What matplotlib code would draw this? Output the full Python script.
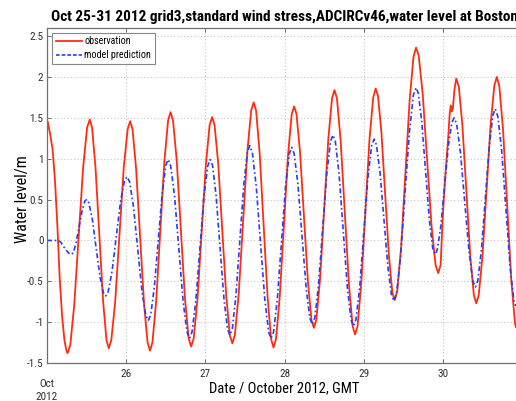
import matplotlib
matplotlib.use("Agg")
import matplotlib.pyplot as plt
from matplotlib.lines import Line2D
from matplotlib import font_manager

_names = {f.name for f in font_manager.fontManager.ttflist}
if 'Liberation Sans Narrow' in _names:
    FAM, SC = 'Liberation Sans Narrow', 1.0
elif 'DejaVu Sans Condensed' in _names:
    FAM, SC = 'DejaVu Sans Condensed', 0.9
elif 'Roboto Condensed' in _names:
    FAM, SC = 'Roboto Condensed', 1.0
else:
    FAM, SC = 'Liberation Sans', 0.82
plt.rcParams['font.family'] = [FAM, 'Liberation Sans', 'DejaVu Sans']

# ---------------- data ----------------
title = "Oct 25-31 2012 grid3,standard wind stress,ADCIRCv46,water level at Boston"
xlabel = "Date / October 2012, GMT"
ylabel = "Water level/m"
xticks = [25, 26, 27, 28, 29, 30]
xticklabels = ["", "26", "27", "28", "29", "30"]
yticks = [-1.5, -1, -0.5, 0, 0.5, 1, 1.5, 2, 2.5]
yticklabels = ["-1.5", "-1", "-0.5", "0", "0.5", "1", "1.5", "2", "2.5"]
start_label = "Oct\n2012"

obs_t = [25.01, 25.04, 25.07, 25.10, 25.13, 25.16, 25.19, 25.22, 25.245, 25.26,
         25.294, 25.344, 25.40, 25.456, 25.506, 25.54,
         25.569, 25.612, 25.66, 25.708, 25.751, 25.78,
         25.812, 25.861, 25.915, 25.969, 26.018, 26.05,
         26.08, 26.125, 26.175, 26.225, 26.27, 26.30,
         26.331, 26.378, 26.43, 26.482, 26.529, 26.56,
         26.591, 26.638, 26.69, 26.742, 26.789, 26.82,
         26.852, 26.90, 26.953, 27.006, 27.053, 27.085,
         27.116, 27.162, 27.213, 27.264, 27.309, 27.34,
         27.372, 27.421, 27.475, 27.529, 27.578, 27.61,
         27.64, 27.685, 27.735, 27.785, 27.83, 27.86,
         27.891, 27.938, 27.99, 28.042, 28.089, 28.12,
         28.15, 28.195, 28.245, 28.295, 28.34, 28.37,
         28.401, 28.448, 28.50, 28.552, 28.599, 28.63,
         28.661, 28.708, 28.76, 28.812, 28.859, 28.89,
         28.921, 28.968, 29.02, 29.072, 29.119, 29.15,
         29.179, 29.222, 29.27, 29.318, 29.361, 29.39,
         29.422, 29.471, 29.525, 29.579, 29.628, 29.66,
         29.694, 29.744, 29.80, 29.856, 29.906, 29.94,
         29.97, 30.00, 30.03, 30.065, 30.085, 30.098, 30.11, 30.125, 30.145, 30.167,
         30.20, 30.245, 30.295, 30.345, 30.39, 30.42,
         30.451, 30.498, 30.55, 30.602, 30.649, 30.68,
         30.711, 30.758, 30.81, 30.862, 30.909, 30.92]
obs_v = [1.45, 1.30, 1.12, 0.75, 0.20, -0.45, -0.92, -1.22, -1.35, -1.38,
         -1.28, -0.79, 0.05, 0.89, 1.38, 1.48,
         1.38, 0.90, 0.08, -0.74, -1.22, -1.32,
         -1.22, -0.75, 0.07, 0.89, 1.36, 1.46,
         1.36, 0.88, 0.06, -0.77, -1.25, -1.35,
         -1.25, -0.75, 0.11, 0.97, 1.47, 1.57,
         1.47, 0.98, 0.14, -0.71, -1.20, -1.30,
         -1.20, -0.72, 0.11, 0.93, 1.41, 1.51,
         1.41, 0.94, 0.13, -0.69, -1.16, -1.26,
         -1.16, -0.65, 0.22, 1.08, 1.59, 1.69,
         1.59, 1.07, 0.19, -0.69, -1.21, -1.31,
         -1.21, -0.70, 0.17, 1.03, 1.54, 1.64,
         1.55, 1.08, 0.29, -0.51, -0.98, -1.07,
         -0.97, -0.47, 0.39, 1.24, 1.74, 1.84,
         1.74, 1.22, 0.35, -0.53, -1.05, -1.15,
         -1.05, -0.53, 0.36, 1.24, 1.75, 1.86,
         1.77, 1.33, 0.57, -0.20, -0.64, -0.73,
         -0.62, -0.09, 0.82, 1.72, 2.25, 2.36,
         2.26, 1.79, 0.98, 0.17, -0.30, -0.40,
         -0.30, 0.35, 0.80, 1.25, 1.55, 1.65, 1.58, 1.62, 1.85, 1.98,
         1.88, 1.41, 0.61, -0.20, -0.67, -0.77,
         -0.67, -0.20, 0.62, 1.43, 1.90, 2.00,
         1.89, 1.36, 0.44, -0.48, -1.01, -1.06]

mod_t = [25.00, 25.05, 25.10, 25.147, 25.18, 25.22, 25.26, 25.29, 25.31,
         25.333, 25.367, 25.405, 25.443, 25.477, 25.50,
         25.529, 25.572, 25.62, 25.668, 25.711, 25.74,
         25.772, 25.821, 25.875, 25.929, 25.978, 26.01,
         26.042, 26.091, 26.145, 26.199, 26.248, 26.28,
         26.31, 26.355, 26.405, 26.455, 26.50, 26.53,
         26.562, 26.611, 26.665, 26.719, 26.768, 26.80,
         26.831, 26.878, 26.93, 26.982, 27.029, 27.06,
         27.09, 27.135, 27.185, 27.235, 27.28, 27.31,
         27.34, 27.385, 27.435, 27.485, 27.53, 27.56,
         27.592, 27.641, 27.695, 27.749, 27.798, 27.83,
         27.861, 27.908, 27.96, 28.012, 28.059, 28.09,
         28.121, 28.168, 28.22, 28.272, 28.319, 28.35,
         28.381, 28.428, 28.48, 28.532, 28.579, 28.61,
         28.641, 28.688, 28.74, 28.792, 28.839, 28.87,
         28.901, 28.948, 29.00, 29.052, 29.099, 29.13,
         29.16, 29.205, 29.255, 29.305, 29.35, 29.38,
         29.414, 29.464, 29.52, 29.576, 29.626, 29.66,
         29.689, 29.732, 29.78, 29.828, 29.871, 29.90,
         29.929, 29.972, 30.02, 30.068, 30.111, 30.14,
         30.172, 30.221, 30.275, 30.329, 30.378, 30.41,
         30.44, 30.485, 30.535, 30.585, 30.63, 30.66,
         30.692, 30.741, 30.795, 30.849, 30.898, 30.92]
mod_v = [0.0, 0.0, 0.0, 0.0, -0.03, -0.09, -0.14, -0.17, -0.17,
         -0.15, -0.03, 0.17, 0.36, 0.48, 0.50,
         0.46, 0.26, -0.09, -0.44, -0.64, -0.68,
         -0.63, -0.38, 0.05, 0.48, 0.73, 0.78,
         0.72, 0.42, -0.10, -0.62, -0.92, -0.98,
         -0.91, -0.57, 0.01, 0.58, 0.92, 0.99,
         0.91, 0.54, -0.11, -0.75, -1.12, -1.20,
         -1.12, -0.75, -0.11, 0.54, 0.91, 0.99,
         0.92, 0.55, -0.09, -0.72, -1.09, -1.16,
         -1.08, -0.68, 0.00, 0.68, 1.08, 1.16,
         1.08, 0.67, -0.02, -0.71, -1.12, -1.20,
         -1.12, -0.72, -0.03, 0.66, 1.06, 1.14,
         1.06, 0.69, 0.06, -0.58, -0.95, -1.03,
         -0.95, -0.55, 0.13, 0.81, 1.21, 1.29,
         1.21, 0.81, 0.12, -0.57, -0.97, -1.05,
         -0.97, -0.58, 0.10, 0.77, 1.16, 1.24,
         1.17, 0.83, 0.25, -0.33, -0.67, -0.74,
         -0.65, -0.20, 0.57, 1.33, 1.78, 1.87,
         1.80, 1.45, 0.85, 0.25, -0.10, -0.17,
         -0.11, 0.17, 0.67, 1.16, 1.44, 1.50,
         1.43, 1.07, 0.47, -0.14, -0.50, -0.57,
         -0.49, -0.12, 0.52, 1.16, 1.53, 1.61,
         1.52, 1.10, 0.38, -0.34, -0.76, -0.80]

obs_label = "observation"
mod_label = "model prediction"
obs_color = "#ff2d0f"
mod_color = "#1f3fff"

# ---------------- figure ----------------
fig = plt.figure(figsize=(5.16, 4.01), dpi=100)
ax = fig.add_axes([47 / 516, 1 - 363 / 401, 474 / 516, 335 / 401])

ax.plot(obs_t, obs_v, color=obs_color, lw=1.3, solid_joinstyle='round')
ax.plot(mod_t, mod_v, color=mod_color, lw=1.2, linestyle=(0, (3.0, 1.6, 1.0, 1.6)))

ax.set_xlim(25.0, 30.985)
ax.set_ylim(-1.5, 2.6)
ax.set_xticks(xticks)
ax.set_xticklabels(xticklabels)
ax.set_yticks(yticks)
ax.set_yticklabels(yticklabels)

ax.grid(True, linestyle=(0, (1, 2)), color='#c4c4c4', linewidth=0.8)
ax.set_axisbelow(True)
for sp in ax.spines.values():
    sp.set_color('#707070')
    sp.set_linewidth(0.9)
ax.tick_params(direction='in', length=3, width=0.7, color='#707070',
               top=True, right=True, labelsize=8 * SC, labelcolor='#303030')
ax.tick_params(axis='y', pad=2.5)
ax.tick_params(axis='x', pad=4.0)

ax.set_title(title, fontsize=11 * SC, fontweight='bold', pad=5)
ax.set_xlabel(xlabel, fontsize=10.5 * SC, va='center')
ax.xaxis.set_label_coords(0.5, -25 / 335)
ax.set_ylabel(ylabel, fontsize=11.5 * SC, va='center')
ax.yaxis.set_label_coords(-24 / 474, 0.49)

ax.annotate(start_label, xy=(xticks[0], 0), xycoords=ax.get_xaxis_transform(),
            xytext=(0, -27.5), textcoords='offset pixels', ha='center', va='center',
            fontsize=8 * SC, color='#303030', linespacing=1.45, annotation_clip=False)

handles = [Line2D([], [], color=obs_color, lw=1.3),
           Line2D([], [], color=mod_color, lw=1.2, linestyle=(0, (2.2, 1.2)))]
leg = ax.legend(handles, [obs_label, mod_label], loc='upper left', fontsize=7.2 * SC,
                frameon=True, fancybox=False, framealpha=1, edgecolor='#888888',
                borderaxespad=0.5, borderpad=0.35, labelspacing=0.35,
                handlelength=2.6, handletextpad=0.3)
leg.get_frame().set_linewidth(0.8)

fig.savefig("out.png", dpi=100)
